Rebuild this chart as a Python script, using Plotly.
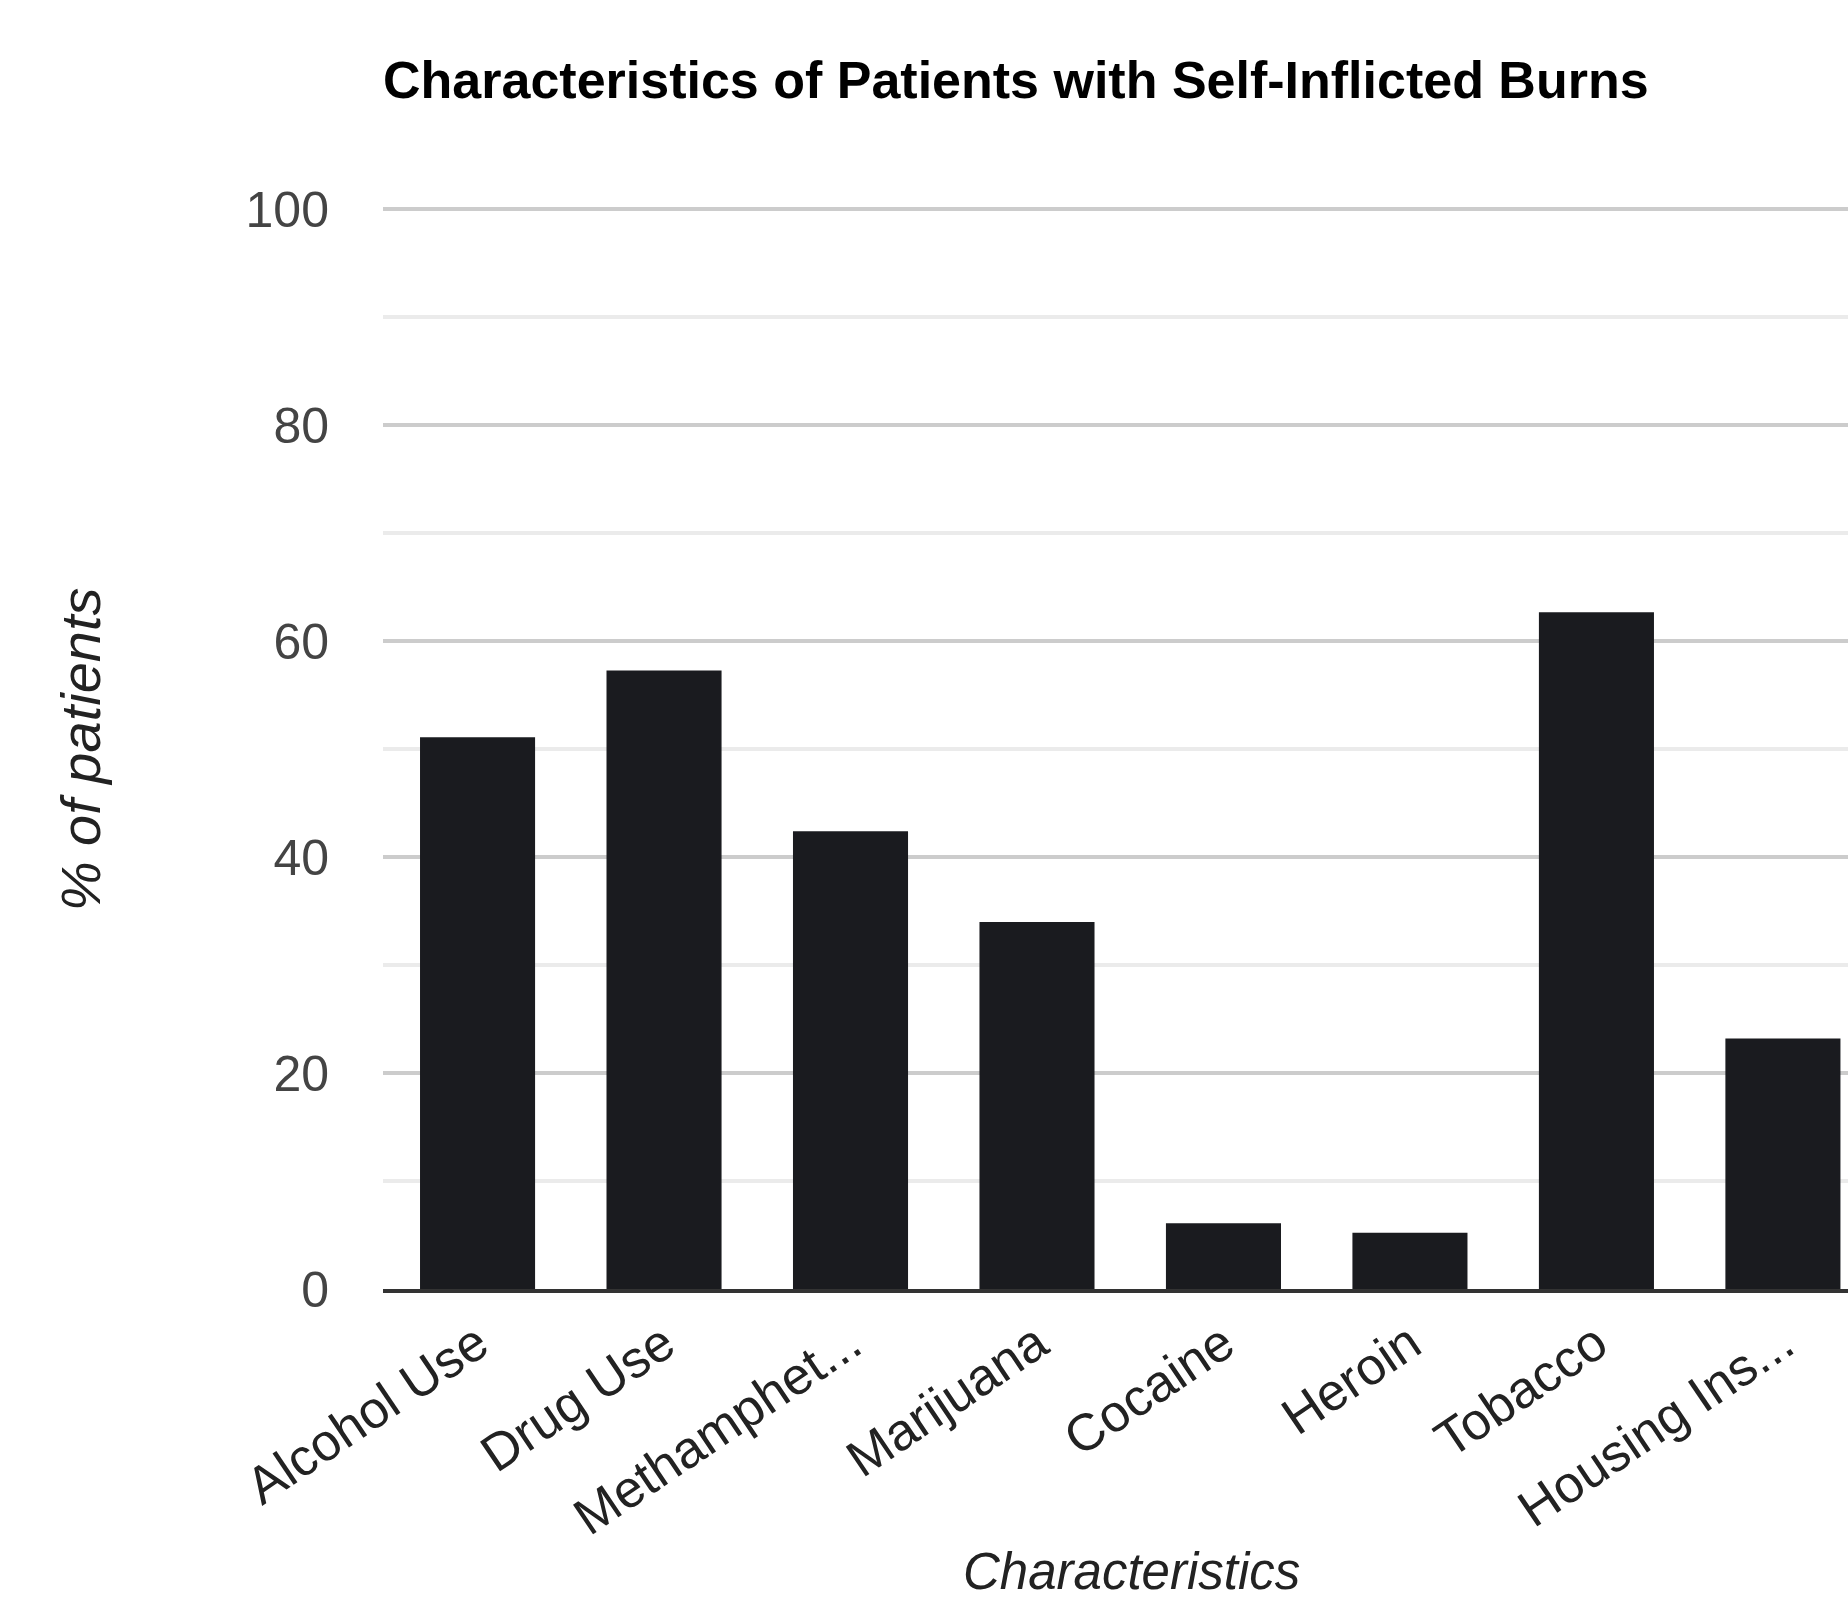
import plotly.graph_objects as go

categories = ["Alcohol Use", "Drug Use", "Methamphet...", "Marijuana", "Cocaine",
              "Heroin", "Tobacco", "Housing Ins..."]
percent_patients = [51.1, 57.3, 42.4, 34.0, 6.1, 5.2, 62.7, 23.2]
y_tick_values = [0, 20, 40, 60, 80, 100]

chart_title = "Characteristics of Patients with Self-Inflicted Burns"
x_title = "Characteristics"
y_title = "% of patients"

FONT = "Arial, 'Liberation Sans', sans-serif"

Y_MAX = 100.6
PX_PER_UNIT = 10.8
plot_h = Y_MAX * PX_PER_UNIT
bottom_m = 315.5
top_m = 1605 - bottom_m - plot_h

fig = go.Figure(
    go.Bar(
        x=list(range(len(categories))),
        y=percent_patients,
        marker=dict(color="#1a1b1f", line=dict(width=0)),
        hoverinfo="x+y",
    )
)

fig.update_layout(
    width=1848,
    height=1605,
    margin=dict(l=383, r=0, t=top_m, b=bottom_m, pad=0),
    paper_bgcolor="white",
    plot_bgcolor="white",
    bargap=0.383,
    showlegend=False,
    font=dict(family=FONT, color="#444444"),
    title=dict(
        text=chart_title,
        font=dict(family=FONT, size=52, color="#000000", weight="bold"),
        x=383 / 1848,
        xanchor="left",
        xref="container",
        y=1 - 80 / 1605,
        yanchor="middle",
        yref="container",
    ),
    xaxis=dict(
        tickmode="array",
        tickvals=list(range(len(categories))),
        ticktext=categories,
        range=[-0.507, 7.349],
        tickangle=-34,
        tickfont=dict(size=52, color="#222222", family=FONT),
        showgrid=False,
        showline=True,
        linecolor="#333333",
        linewidth=4,
        ticks="",
        ticklabelstandoff=0,
        zeroline=False,
    ),
    yaxis=dict(
        range=[0, Y_MAX],
        tickmode="array",
        tickvals=y_tick_values,
        tickfont=dict(size=50, color="#444444", family=FONT),
        showgrid=True,
        gridcolor="#cccccc",
        gridwidth=4,
        minor=dict(dtick=10, showgrid=True, gridcolor="#ebebeb", gridwidth=4),
        zeroline=False,
        showline=False,
        ticks="",
        ticklabelstandoff=53,
    ),
    annotations=[
        dict(
            text=y_title,
            xref="paper", yref="y",
            x=0, y=50,
            xanchor="center", yanchor="middle",
            xshift=80 - 383,
            textangle=-90,
            showarrow=False,
            font=dict(family=FONT, size=56, color="#222222", style="italic"),
        ),
        dict(
            text=x_title,
            xref="paper", yref="paper",
            x=(1131 - 383) / 1465, y=0,
            xanchor="center", yanchor="middle",
            yshift=-(1572 - 1289.5),
            showarrow=False,
            font=dict(family=FONT, size=51, color="#222222", style="italic"),
        ),
    ],
)

fig.write_html(
    "out.html",
    config={"displayModeBar": False},
    post_script="document.body.style.margin='0';",
)
